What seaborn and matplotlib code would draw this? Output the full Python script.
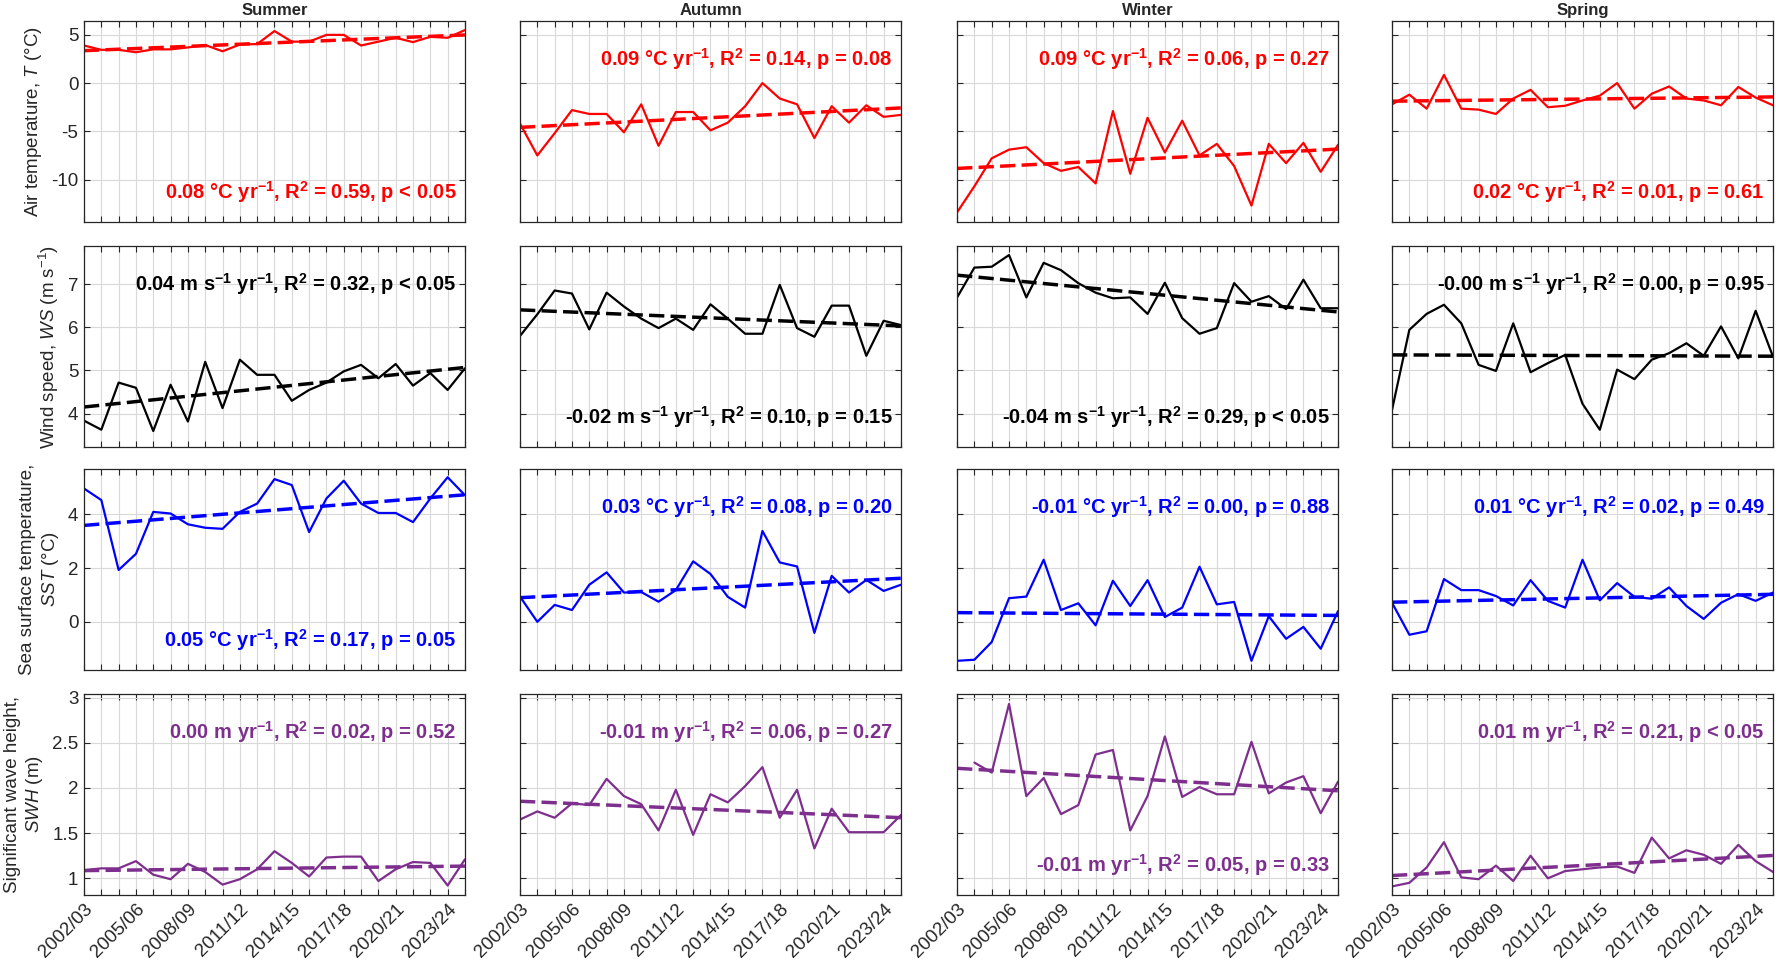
import numpy as np
import matplotlib
matplotlib.use("Agg")
import matplotlib.pyplot as plt
import seaborn as sns

# season labels (x axis)
season_labels = ["2002/03", "2003/04", "2004/05", "2005/06", "2006/07", "2007/08",
                 "2008/09", "2009/10", "2010/11", "2011/12", "2012/13", "2013/14",
                 "2014/15", "2015/16", "2016/17", "2017/18", "2018/19", "2019/20",
                 "2020/21", "2021/22", "2022/23", "2023/24", "2024/25"]
season_names = ["Summer", "Autumn", "Winter", "Spring"]

# Air temperature (°C)
t_summer = [3.9, 3.45, 3.45, 3.2, 3.5, 3.5, 3.7, 3.95, 3.3, 4.0, 4.05, 5.4,
            4.3, 4.3, 5.0, 5.0, 3.9, 4.3, 4.7, 4.25, 4.8, 4.7, 5.5]
t_autumn = [-4.2, -7.5, -5.2, -2.8, -3.2, -3.2, -5.1, -2.2, -6.5, -3.0, -3.0, -4.9,
            -4.1, -2.4, 0.0, -1.6, -2.2, -5.7, -2.4, -4.1, -2.3, -3.5, -3.3]
t_winter = [-13.4, -10.7, -7.8, -6.9, -6.65, -8.3, -9.1, -8.7, -10.4, -2.9, -9.4, -3.6,
            -7.2, -3.9, -7.5, -6.3, -8.6, -12.7, -6.3, -8.3, -6.2, -9.2, -6.4]
t_spring = [-2.2, -1.2, -2.65, 0.85, -2.65, -2.75, -3.2, -1.6, -0.7, -2.5, -2.35, -1.8,
            -1.3, 0.0, -2.65, -1.1, -0.35, -1.6, -1.8, -2.3, -0.4, -1.5, -2.3]

# Wind speed (m/s)
ws_summer = [3.84, 3.63, 4.72, 4.6, 3.6, 4.67, 3.82, 5.2, 4.13, 5.25, 4.9, 4.9,
             4.3, 4.55, 4.72, 4.98, 5.13, 4.82, 5.15, 4.65, 4.94, 4.55, 5.05]
ws_autumn = [5.8, 6.3, 6.85, 6.78, 5.95, 6.8, 6.48, 6.2, 5.98, 6.2, 5.94, 6.53,
             6.2, 5.85, 5.85, 6.98, 5.98, 5.78, 6.5, 6.5, 5.34, 6.15, 6.05]
ws_winter = [6.69, 7.38, 7.4, 7.67, 6.69, 7.49, 7.32, 7.02, 6.8, 6.67, 6.69, 6.31,
             7.03, 6.21, 5.85, 5.98, 7.02, 6.59, 6.72, 6.42, 7.1, 6.44, 6.44]
ws_spring = [4.09, 5.94, 6.31, 6.52, 6.09, 5.13, 4.99, 6.09, 4.96, 5.17, 5.36, 4.23,
             3.63, 5.02, 4.8, 5.25, 5.4, 5.63, 5.34, 6.02, 5.28, 6.38, 5.32]

# Sea surface temperature (°C)
sst_summer = [4.96, 4.53, 1.93, 2.53, 4.09, 4.03, 3.63, 3.5, 3.46, 4.09, 4.4, 5.31,
              5.09, 3.34, 4.59, 5.25, 4.4, 4.05, 4.05, 3.71, 4.59, 5.38, 4.71]
sst_autumn = [0.94, 0.0, 0.63, 0.44, 1.38, 1.84, 1.09, 1.11, 0.75, 1.18, 2.25, 1.78,
              0.93, 0.53, 3.38, 2.21, 2.06, -0.41, 1.71, 1.09, 1.56, 1.15, 1.38]
sst_winter = [-1.45, -1.41, -0.75, 0.88, 0.94, 2.31, 0.44, 0.69, -0.13, 1.53, 0.59, 1.55,
              0.18, 0.53, 2.05, 0.65, 0.74, -1.45, 0.21, -0.63, -0.19, -1.0, 0.4]
sst_spring = [0.71, -0.48, -0.35, 1.59, 1.18, 1.18, 0.96, 0.61, 1.55, 0.78, 0.53, 2.31,
              0.8, 1.44, 0.93, 0.86, 1.28, 0.59, 0.11, 0.71, 1.03, 0.78, 1.09]

# Significant wave height (m)
swh_summer = [1.09, 1.11, 1.11, 1.19, 1.04, 0.99, 1.16, 1.07, 0.93, 0.99, 1.1, 1.3,
              1.17, 1.02, 1.23, 1.24, 1.24, 0.97, 1.1, 1.18, 1.17, 0.92, 1.21]
swh_autumn = [1.65, 1.74, 1.67, 1.83, 1.81, 2.1, 1.91, 1.82, 1.53, 1.98, 1.48, 1.93,
              1.84, 2.02, 2.23, 1.67, 1.98, 1.33, 1.77, 1.51, 1.51, 1.51, 1.7]
swh_winter = [np.nan, 2.28, 2.17, 2.93, 1.91, 2.11, 1.71, 1.81, 2.37, 2.42, 1.53, 1.91,
              2.57, 1.9, 2.01, 1.93, 1.93, 2.51, 1.94, 2.06, 2.13, 1.72, 2.07]
swh_spring = [0.91, 0.95, 1.12, 1.4, 1.01, 0.99, 1.14, 0.97, 1.25, 1.0, 1.08, 1.1,
              1.12, 1.13, 1.06, 1.45, 1.22, 1.31, 1.26, 1.16, 1.37, 1.19, 1.07]

# trend statistics written in each panel
stats_t = [r"0.08 °C yr$^{\mathbf{-1}}$, R$^{\mathbf{2}}$ = 0.59, p < 0.05",
           r"0.09 °C yr$^{\mathbf{-1}}$, R$^{\mathbf{2}}$ = 0.14, p = 0.08",
           r"0.09 °C yr$^{\mathbf{-1}}$, R$^{\mathbf{2}}$ = 0.06, p = 0.27",
           r"0.02 °C yr$^{\mathbf{-1}}$, R$^{\mathbf{2}}$ = 0.01, p = 0.61"]
stats_ws = [r"0.04 m s$^{\mathbf{-1}}$ yr$^{\mathbf{-1}}$, R$^{\mathbf{2}}$ = 0.32, p < 0.05",
            r"-0.02 m s$^{\mathbf{-1}}$ yr$^{\mathbf{-1}}$, R$^{\mathbf{2}}$ = 0.10, p = 0.15",
            r"-0.04 m s$^{\mathbf{-1}}$ yr$^{\mathbf{-1}}$, R$^{\mathbf{2}}$ = 0.29, p < 0.05",
            r"-0.00 m s$^{\mathbf{-1}}$ yr$^{\mathbf{-1}}$, R$^{\mathbf{2}}$ = 0.00, p = 0.95"]
stats_sst = [r"0.05 °C yr$^{\mathbf{-1}}$, R$^{\mathbf{2}}$ = 0.17, p = 0.05",
             r"0.03 °C yr$^{\mathbf{-1}}$, R$^{\mathbf{2}}$ = 0.08, p = 0.20",
             r"-0.01 °C yr$^{\mathbf{-1}}$, R$^{\mathbf{2}}$ = 0.00, p = 0.88",
             r"0.01 °C yr$^{\mathbf{-1}}$, R$^{\mathbf{2}}$ = 0.02, p = 0.49"]
stats_swh = [r"0.00 m yr$^{\mathbf{-1}}$, R$^{\mathbf{2}}$ = 0.02, p = 0.52",
             r"-0.01 m yr$^{\mathbf{-1}}$, R$^{\mathbf{2}}$ = 0.06, p = 0.27",
             r"-0.01 m yr$^{\mathbf{-1}}$, R$^{\mathbf{2}}$ = 0.05, p = 0.33",
             r"0.01 m yr$^{\mathbf{-1}}$, R$^{\mathbf{2}}$ = 0.21, p < 0.05"]
# where the text sits in each panel (top / bottom)
stats_pos = [["bot", "top", "top", "bot"],
             ["top", "bot", "bot", "top"],
             ["bot", "top", "top", "top"],
             ["top", "top", "bot", "top"]]

rows = [
    dict(data=[t_summer, t_autumn, t_winter, t_spring], stats=stats_t, color="#ff0000",
         ylabel=r"Air temperature, $\mathit{T}$ (°C)", ylim=(-14.4, 6.45), yticks=[-10, -5, 0, 5]),
    dict(data=[ws_summer, ws_autumn, ws_winter, ws_spring], stats=stats_ws, color="#000000",
         ylabel=r"Wind speed, $\mathit{WS}$ (m s$^{-1}$)", ylim=(3.23, 7.88), yticks=[4, 5, 6, 7]),
    dict(data=[sst_summer, sst_autumn, sst_winter, sst_spring], stats=stats_sst, color="#0000ff",
         ylabel="Sea surface temperature,\n" + r"$\mathit{SST}$ (°C)", ylim=(-1.79, 5.69), yticks=[0, 2, 4]),
    dict(data=[swh_summer, swh_autumn, swh_winter, swh_spring], stats=stats_swh, color="#7e2f8e",
         ylabel="Significant wave height,\n" + r"$\mathit{SWH}$ (m)", ylim=(0.815, 3.04),
         yticks=[1, 1.5, 2, 2.5, 3]),
]

sns.set_style("white")
plt.rcParams["font.family"] = ["Liberation Sans", "DejaVu Sans"]
plt.rcParams["mathtext.fontset"] = "custom"
plt.rcParams["mathtext.rm"] = "Liberation Sans"
plt.rcParams["mathtext.it"] = "Liberation Sans:italic"
plt.rcParams["mathtext.bf"] = "Liberation Sans:bold"

fig = plt.figure(figsize=(17.76, 9.68), dpi=100)

lefts = [0.0473, 0.2928, 0.5389, 0.7838]
bottoms = [0.7707, 0.5382, 0.3079, 0.0754]
w, h = 0.2145, 0.2077

x = np.arange(len(season_labels))
xlabels = [lab if i % 3 == 0 else "" for i, lab in enumerate(season_labels)]

for r, row in enumerate(rows):
    for c in range(4):
        ax = fig.add_axes([lefts[c], bottoms[r], w, h])
        y = np.array(row["data"][c], dtype=float)
        ax.set_xlim(0, 22)
        ax.set_ylim(*row["ylim"])
        ax.grid(True, color="#d9d9d9", lw=0.8)
        ax.set_axisbelow(True)
        sns.lineplot(x=x, y=y, ax=ax, color=row["color"], lw=1.6, estimator=None)
        sns.regplot(x=x, y=y, ax=ax, scatter=False, ci=None, truncate=False,
                    color=row["color"],
                    line_kws=dict(lw=2.5, ls=(0, (4.4, 1.8))))
        ax.set_xlim(0, 22)
        ax.set_ylim(*row["ylim"])
        ax.set_xticks(x)
        ax.set_yticks(row["yticks"])
        if r == 3:
            ax.set_xticklabels(xlabels, rotation=45, ha="right", rotation_mode="anchor", fontsize=13.5)
        else:
            ax.set_xticklabels([])
        if c == 0:
            ax.set_yticklabels([f"{v:g}" for v in row["yticks"]], fontsize=13.5)
            ax.set_ylabel(row["ylabel"], fontsize=13.5, labelpad=5, linespacing=1.25)
        else:
            ax.set_yticklabels([])
            ax.set_ylabel("")
        ax.set_xlabel("")
        ax.tick_params(direction="in", length=4, width=0.8, top=True, right=True,
                       bottom=True, left=True, pad=4, colors="#262626")
        for s in ax.spines.values():
            s.set_color("#262626")
            s.set_linewidth(0.9)
        if r == 0:
            ax.set_title(season_names[c], fontsize=12, fontweight="bold", pad=4)
        ty = 0.81 if stats_pos[r][c] == "top" else 0.15
        ax.text(0.978, ty, row["stats"][c], transform=ax.transAxes, ha="right", va="center",
                fontsize=14.5, fontweight="bold", color=row["color"])

fig.savefig("out.png", dpi=100)
